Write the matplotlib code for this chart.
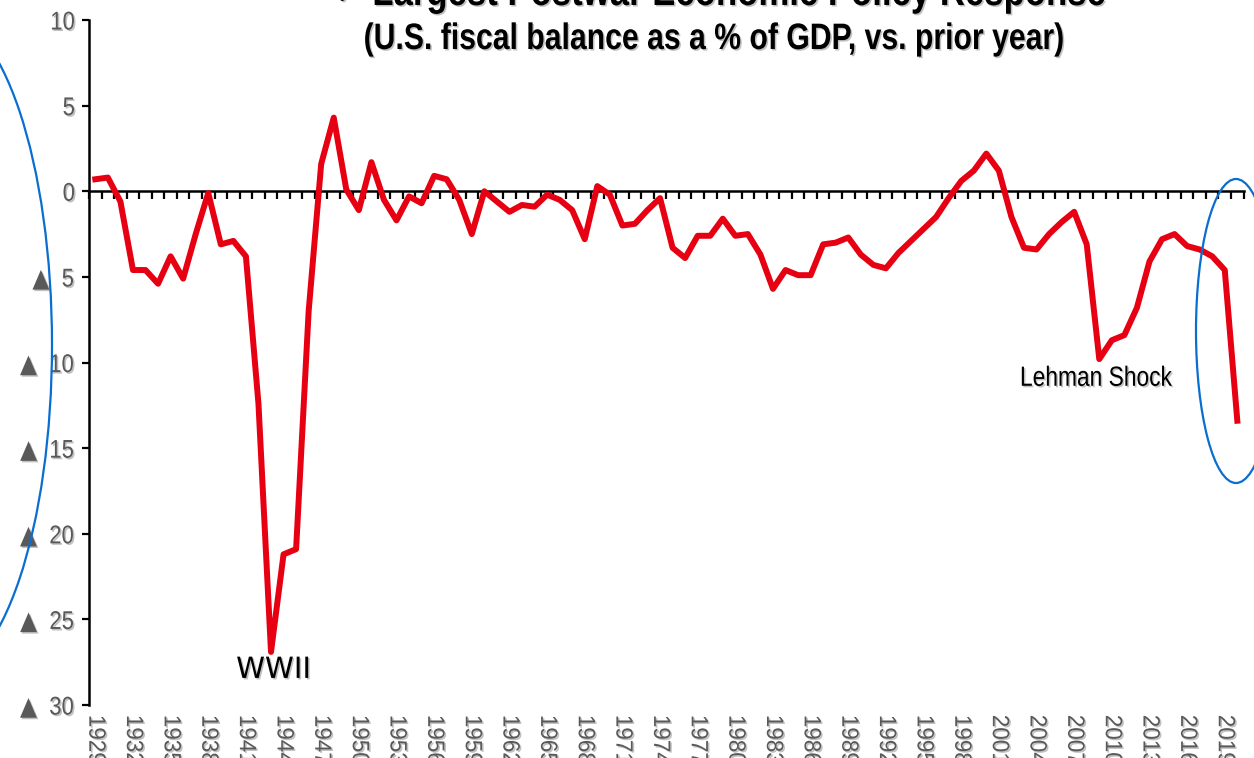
import matplotlib
matplotlib.use("Agg")
import matplotlib.pyplot as plt
import matplotlib.patheffects as pe
from matplotlib.patches import Ellipse
from matplotlib.ticker import FuncFormatter
from matplotlib.transforms import Affine2D

# fiscal balance, % of GDP
years = list(range(1929, 2021))
balance = [0.7, 0.8, -0.6, -4.6, -4.6, -5.4, -3.8, -5.1, -2.5, -0.1,
           -3.1, -2.9, -3.8, -12.4, -26.9, -21.2, -20.9, -7.0, 1.6, 4.3,
           0.1, -1.1, 1.7, -0.5, -1.7, -0.3, -0.7, 0.9, 0.7, -0.5,
           -2.5, 0.0, -0.6, -1.2, -0.8, -0.9, -0.2, -0.5, -1.1, -2.8,
           0.3, -0.2, -2.0, -1.9, -1.1, -0.4, -3.3, -3.9, -2.6, -2.6,
           -1.6, -2.6, -2.5, -3.7, -5.7, -4.6, -4.9, -4.9, -3.1, -3.0,
           -2.7, -3.7, -4.3, -4.5, -3.6, -2.9, -2.2, -1.5, -0.4, 0.6,
           1.2, 2.2, 1.2, -1.5, -3.3, -3.4, -2.5, -1.8, -1.2, -3.1,
           -9.8, -8.7, -8.4, -6.8, -4.1, -2.8, -2.5, -3.2, -3.4, -3.8,
           -4.6, -13.4]
yticks = [10, 5, 0, -5, -10, -15, -20, -25, -30]
label_years = years[::3]
title1 = "\u2713 Largest Postwar Economic Policy Response"
title2 = "(U.S. fiscal balance as a % of GDP, vs. prior year)"

GREY = "#595959"


class Narrow(pe.AbstractPathEffect):
    """squeeze text horizontally (no narrow font installed) + drop shadow"""
    def __init__(self, sx=0.82, anchor="center", shadow=True):
        super().__init__()
        self.sx = sx
        self.anchor = anchor
        self.shadow = shadow

    def draw_path(self, renderer, gc, tpath, affine, rgbFace=None):
        ext = tpath.get_extents()
        if self.anchor == "left":
            cx = ext.x0
        elif self.anchor == "right":
            cx = ext.x1
        else:
            cx = (ext.x0 + ext.x1) / 2
        tr = Affine2D().translate(-cx, 0).scale(self.sx, 1).translate(cx, 0) + affine
        if self.shadow:
            d = renderer.points_to_pixels(1.1)
            gc0 = renderer.new_gc()
            gc0.copy_properties(gc)
            gc0.set_foreground("#9a9a9a")
            gc0.set_alpha(0.6)
            renderer.draw_path(gc0, tpath, tr + Affine2D().translate(d, -d), (0.6, 0.6, 0.6))
            gc0.restore()
        renderer.draw_path(gc, tpath, tr, rgbFace)


fig = plt.figure(figsize=(12.54, 7.58), dpi=100)
ax = fig.add_axes([0.0710, 0.0699, 0.9207, 0.9037])

idx = list(range(len(years)))
ax.plot(idx, balance, color="#E60012", lw=4.3, solid_joinstyle="round", zorder=3)

ax.set_xlim(-0.5, len(years) - 0.5)
ax.set_ylim(-30, 10)

# y axis, negatives shown with a triangle
ax.set_yticks(yticks)
ax.yaxis.set_major_formatter(FuncFormatter(lambda v, p: "%d" % v if v >= 0 else "$\u25b2$  %d" % -v))
ax.tick_params(axis="y", direction="out", length=5, width=1.6, pad=5, labelsize=18.5, labelcolor=GREY)
for lab in ax.get_yticklabels():
    lab.set_family("Liberation Sans")
    lab.set_path_effects([Narrow(0.86, "right")])
ax.spines["left"].set_linewidth(1.8)
ax.spines["top"].set_visible(False)
ax.spines["right"].set_visible(False)

# category axis crossing at zero, ticks between categories
ax.spines["bottom"].set_position(("data", 0))
ax.spines["bottom"].set_linewidth(1.8)
ax.spines["bottom"].set_zorder(2)
ax.set_xticks([i - 0.5 for i in idx] + [len(years) - 0.5])
ax.tick_params(axis="x", direction="out", length=6, width=1.6, labelbottom=False)

# year labels at the bottom
sec = ax.secondary_xaxis("bottom")
sec.spines["bottom"].set_visible(False)
sec.set_xticks([years.index(y) for y in label_years])
sec.set_xticklabels([str(y) for y in label_years], rotation=-90, family="Liberation Sans",
                    color=GREY, fontsize=17)
sec.tick_params(axis="x", length=0, pad=7)
for lab in sec.get_xticklabels():
    lab.set_path_effects([Narrow(0.95, "left")])

ax.text(years.index(1943) + 0.2, -27.95, "WWII", ha="center", va="center", fontsize=21,
        family="DejaVu Sans", color="black", path_effects=[Narrow(1.0)])
ax.text(years.index(2009) - 0.3, -10.95, "Lehman Shock", ha="center", va="center", fontsize=20,
        family="Liberation Sans", color="black", path_effects=[Narrow(0.82)])

# titles (top line runs off the top edge)
fig.text(0.574, 1 - 5 / 758, title1, ha="center", va="baseline", fontsize=30.5, fontweight="bold",
         family=["Liberation Sans", "DejaVu Sans"], path_effects=[Narrow(0.82)])
fig.text(0.569, 1 - 49 / 758, title2, ha="center", va="baseline", fontsize=26.5, fontweight="bold",
         family="Liberation Sans", path_effects=[Narrow(0.82)])

# highlight ellipses
fig.patches.append(Ellipse((-60 / 1254, 1 - 345 / 758), 224 / 1254, 664 / 758, transform=fig.transFigure,
                           fill=False, edgecolor="#0A6ED1", lw=1.6))
fig.patches.append(Ellipse((1236 / 1254, 1 - 331 / 758), 80 / 1254, 304 / 758, transform=fig.transFigure,
                           fill=False, edgecolor="#0A6ED1", lw=1.6))

fig.savefig("out.png", dpi=100)
